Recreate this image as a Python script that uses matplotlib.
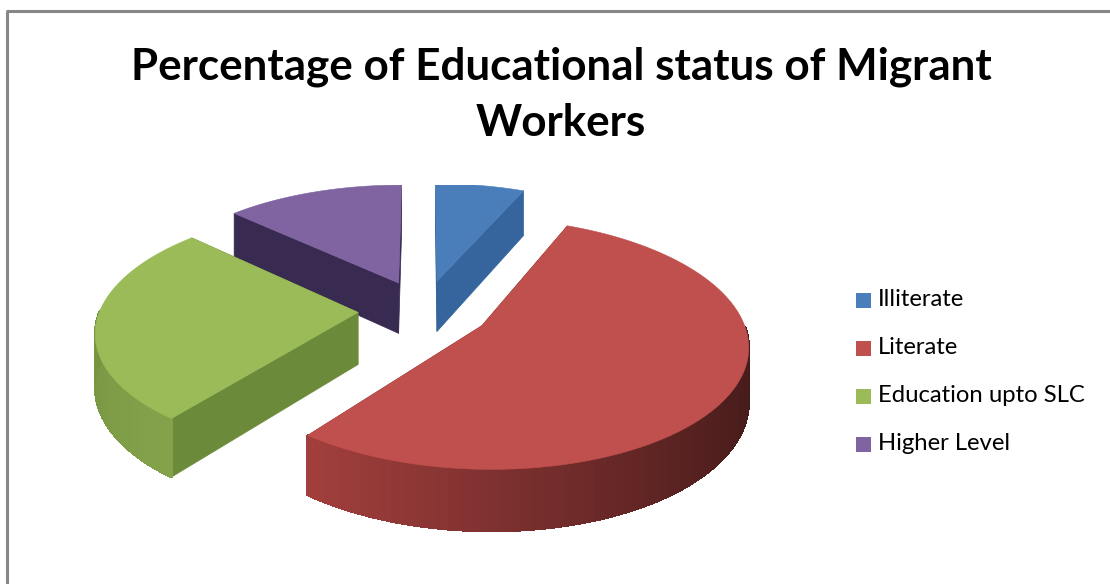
import numpy as np
import matplotlib
matplotlib.use("Agg")
import matplotlib.pyplot as plt
from matplotlib.patches import Polygon, Rectangle

title = "Percentage of Educational status of Migrant\nWorkers"
categories = ["Illiterate", "Literate", "Education upto SLC", "Higher Level"]
shares = [6.5, 54, 26.5, 13]
top_colors = ["#4a7ebb", "#c0504d", "#9bbb59", "#8064a2"]
edge_near = ["#2f5f96", "#a8413f", "#84a24a", "#3a2c52"]
edge_far = ["#2f5f96", "#451b1a", "#6b8a3a", "#3a2c52"]
side_colors = ["#35659c", "#7a2d2b", "#6c8b3a", "#382a50"]

# pie geometry, in pixels
cx, cy = 424, 310
radius = 258
tilt = 0.46
depth = 52
explode = 66
persp = 0.14


def project(x, y, z=0.0):
    # y goes away from the viewer, z goes down
    p = 1.0 / (1.0 + persp * y / radius)
    return cx + x * p, cy - y * tilt * p + z * p


def blend(a, b, t):
    a = np.array(matplotlib.colors.to_rgb(a))
    b = np.array(matplotlib.colors.to_rgb(b))
    return tuple(a + (b - a) * t)


fig = plt.figure(figsize=(11.10, 5.84), dpi=100)
ax = fig.add_axes([0, 0, 1, 1])
ax.set_xlim(0, 1110)
ax.set_ylim(584, 0)
ax.axis("off")

# frame of the chart area, only the left and top edges are on the canvas
ax.plot([7, 7], [584, 11], color="#868686", lw=2.2, solid_capstyle="butt")
ax.plot([6, 1110], [11, 11], color="#868686", lw=2.2, solid_capstyle="butt")

# slice angles, clockwise from twelve o'clock
fracs = np.array(shares) / sum(shares)
ends = np.cumsum(fracs) * 360
starts = ends - fracs * 360

slices = []
for i in range(len(shares)):
    mid = np.radians((starts[i] + ends[i]) / 2)
    ox, oy = explode * np.sin(mid), explode * np.cos(mid)
    slices.append((oy, i, ox))

# far slices first so nearer ones paint over them
for oy, i, ox in sorted(slices, reverse=True):
    th = np.radians(np.linspace(starts[i], ends[i], 160))
    xs = ox + radius * np.sin(th)
    ys = oy + radius * np.cos(th)

    # cut faces
    for k in (0, -1):
        tx, ty = project(np.array([ox, xs[k]]), np.array([oy, ys[k]]))
        bx, by = project(np.array([ox, xs[k]]), np.array([oy, ys[k]]), depth)
        ax.add_patch(Polygon(np.column_stack([np.r_[tx, bx[::-1]], np.r_[ty, by[::-1]]]),
                             fc=side_colors[i], ec=side_colors[i], lw=0.5, zorder=2))

    # rim, shaded along its length, only the part facing the viewer
    for k in range(len(th) - 1):
        if np.cos(th[k]) > 0.0:
            continue
        tx, ty = project(xs[k:k + 2], ys[k:k + 2])
        bx, by = project(xs[k:k + 2], ys[k:k + 2], depth)
        shade = 1 - (k + 0.5) / (len(th) - 1)
        if i == 1:
            shade = float(np.clip((np.sin(th[k]) + 0.7) / 1.7, 0, 1))
            c = blend(edge_near[i], edge_far[i], shade)
        else:
            c = blend(edge_far[i], edge_near[i], shade)
        ax.add_patch(Polygon(np.column_stack([np.r_[tx, bx[::-1]], np.r_[ty, by[::-1]]]),
                             fc=c, ec=c, lw=1.0, antialiased=False, zorder=2))

    # top surface
    tx, ty = project(np.r_[ox, xs], np.r_[oy, ys])
    ax.add_patch(Polygon(np.column_stack([tx, ty]), fc=top_colors[i], ec=top_colors[i],
                         lw=0.4, zorder=3))

# back of the pie is cropped flat
ax.add_patch(Rectangle((20, 100), 800, 85, fc="white", ec="none", zorder=4))

ax.text(561, 95, title, ha="center", va="center", fontsize=31.7, fontweight="bold",
        family="Lato", linespacing=1.5, color="black", zorder=5)

# legend
for n, name in enumerate(categories):
    y = 300 + n * 48
    ax.add_patch(Rectangle((856, y - 7.5), 15, 15, fc=top_colors[n], ec="none"))
    ax.text(878, y, name, ha="left", va="center", fontsize=17.2, family="Lato", color="black")

fig.savefig("out.png", dpi=100)
